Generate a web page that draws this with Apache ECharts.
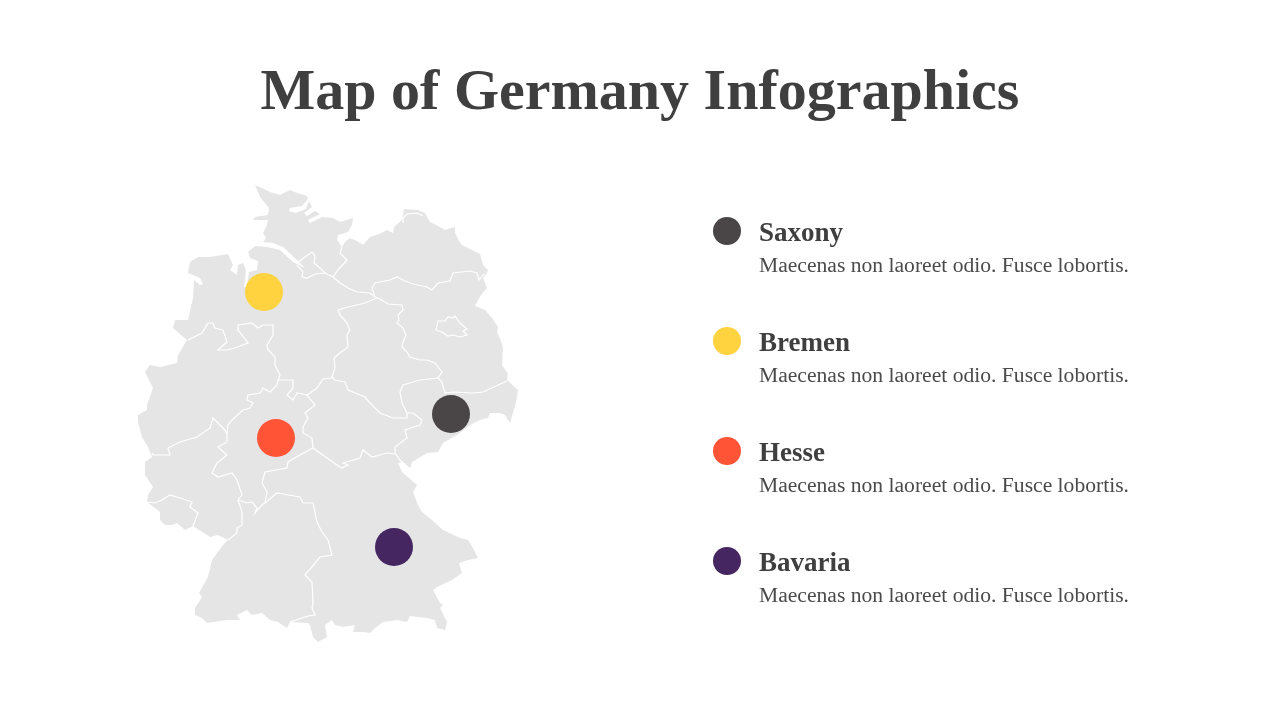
<!DOCTYPE html>
<html lang="en">
<head>
    <meta charset="UTF-8">
    <title>Map of Germany Infographics</title>
    <style>
        * { margin: 0; padding: 0; }
        body { background: #fff; }
        #chart-container { width: 1280px; height: 720px; }
    </style>
</head>
<body>
    <div id="chart-container"></div>
    <script src="https://cdn.jsdelivr.net/npm/echarts@6/dist/echarts.min.js"></script>
    <script>
        // outline and inner borders, in map units
        var germanyOutline = [[255,185],[262,188],[270,192],[280,195],[290,190],[297,193],[307,196],[308,199],[302,206],[290,208],[289,211],[296,213],[306,209],[309,201],[312,207],[304,213],[307,216],[315,211],[320,214],[308,220],[310,223],[322,217],[333,218],[340,222],[353,218],[352,225],[348,232],[338,235],[337,240],[342,247],[345,242],[350,238],[357,241],[363,245],[370,237],[379,234],[387,230],[393,233],[394,227],[402,220],[404,209],[418,210],[425,213],[430,222],[438,226],[445,230],[455,227],[455,233],[459,241],[462,245],[472,250],[480,254],[483,265],[488,270],[486,275],[483,278],[487,288],[481,295],[477,302],[475,306],[485,310],[492,318],[498,327],[497,332],[501,341],[503,348],[502,365],[508,374],[507,380],[518,390],[516,402],[510,423],[505,415],[500,413],[490,413],[488,418],[480,420],[470,425],[457,435],[443,443],[438,452],[427,453],[412,462],[410,468],[403,462],[398,463],[402,472],[417,485],[413,492],[418,505],[422,512],[432,520],[443,530],[460,538],[468,540],[473,548],[478,558],[468,560],[459,563],[462,573],[452,580],[437,587],[433,590],[440,603],[443,605],[440,608],[447,622],[445,630],[437,628],[435,620],[427,618],[410,616],[407,622],[397,620],[383,622],[375,628],[370,633],[363,632],[353,632],[355,625],[343,627],[335,625],[332,620],[325,625],[327,637],[318,642],[313,637],[310,625],[308,623],[290,622],[287,628],[284,626],[278,622],[270,620],[262,613],[252,615],[247,610],[237,615],[240,620],[227,620],[213,622],[207,623],[202,618],[195,615],[195,608],[202,597],[199,593],[208,577],[212,560],[223,545],[228,540],[218,535],[210,537],[193,526],[185,530],[177,523],[172,525],[165,525],[160,520],[160,512],[147,502],[148,495],[153,487],[145,475],[145,462],[152,457],[148,447],[142,437],[138,422],[138,415],[147,410],[147,405],[153,388],[145,372],[150,365],[160,367],[177,363],[178,355],[187,340],[173,328],[175,320],[188,320],[193,298],[194,280],[200,285],[203,284],[200,278],[193,275],[188,273],[190,262],[198,257],[210,257],[228,254],[233,265],[230,270],[237,275],[238,265],[243,263],[246,270],[244,287],[247,287],[249,272],[257,270],[258,261],[250,258],[248,252],[255,246],[267,247],[280,250],[293,262],[305,268],[297,260],[283,247],[273,243],[263,242],[266,238],[263,233],[267,225],[268,220],[253,220],[255,217],[268,215],[269,208],[260,197]];

        var innerBorders = [
            [[297,263],[305,257],[312,252],[315,256],[314,263],[320,268],[325,273]],
            [[297,265],[303,272],[302,277],[307,278],[315,274],[325,273],[333,277],[340,283],[348,288],[357,292],[370,293],[375,297]],
            [[333,277],[338,270],[347,260],[340,253],[342,247]],
            [[375,297],[372,288],[375,283],[390,280],[397,277],[405,281],[413,284],[427,287],[432,290],[438,283],[450,281],[453,273],[470,271],[477,273],[479,280],[483,275],[486,275]],
            [[375,297],[380,299],[388,304],[402,305],[403,310],[398,315],[399,320],[397,323],[403,328],[406,335],[403,342],[402,347],[407,352],[410,357],[420,360],[427,360],[435,363],[442,372],[438,378],[442,382],[445,393],[453,392],[473,393],[483,392],[507,381]],
            [[377,298],[365,303],[348,307],[338,310],[340,315],[347,323],[350,330],[347,335],[348,347],[340,353],[334,358],[335,368],[332,377],[335,380],[345,382],[348,390],[365,397],[370,403],[380,413],[393,418],[407,418],[407,413]],
            [[438,378],[420,380],[403,385],[400,392],[402,403],[407,413],[413,413],[422,420],[420,425],[405,430],[407,438],[395,447],[395,453],[400,460],[408,468]],
            [[395,454],[387,453],[372,457],[363,450],[360,458],[343,463],[348,465],[342,468],[337,465],[313,448],[300,455],[288,462],[287,468],[265,472],[262,483],[267,492],[265,503],[262,505],[255,513],[257,508],[252,502],[247,503],[238,500]],
            [[313,448],[312,438],[303,433],[303,427],[308,418],[305,413],[315,405],[307,395],[317,388],[323,379],[332,378]],
            [[307,395],[297,393],[293,400],[287,395],[293,388],[293,380],[278,380],[280,375],[275,365],[275,357],[268,350],[267,345],[273,335],[273,325],[263,325],[258,328],[252,323],[238,325],[238,330],[248,343],[235,348],[227,350],[218,350],[220,348],[227,342],[223,330],[215,328],[213,323],[208,323],[202,333],[188,340]],
            [[278,380],[277,385],[270,392],[263,388],[260,393],[248,395],[247,400],[253,403],[250,408],[243,410],[232,420],[228,425],[227,433],[227,442],[218,447],[227,455],[217,463],[212,473],[218,477],[232,473],[237,480],[242,495],[238,500],[242,512],[242,525],[237,528],[237,533],[228,540]],
            [[152,453],[153,455],[170,455],[168,448],[180,442],[197,437],[210,428],[213,418],[222,427],[227,433]],
            [[147,502],[155,503],[162,500],[170,495],[180,498],[192,502],[190,507],[198,513],[193,526]],
            [[265,503],[277,493],[288,495],[300,497],[303,503],[313,503],[317,522],[322,532],[328,540],[332,555],[320,557],[305,575],[312,582],[313,605],[312,608],[315,615],[308,616],[290,622]],
            [[436,330],[438,321],[445,321],[448,317],[453,318],[455,316],[460,323],[467,329],[463,331],[467,335],[460,337],[453,335],[448,336],[442,332],[436,330]],
            [[403,223],[403,218],[407,214],[417,213],[423,216]]
        ];

        var stateNames = ['Saxony', 'Bremen', 'Hesse', 'Bavaria'];
        var stateColors = ['#4a4648', '#ffd23f', '#ff5436', '#452661'];
        var statePoints = [[451,414], [264,292], [276,438], [394,547]];
        var stateNote = 'Maecenas non laoreet odio. Fusce lobortis.';

        echarts.registerMap('germany', {
            type: 'FeatureCollection',
            features: [{
                type: 'Feature',
                properties: { name: 'Germany' },
                geometry: { type: 'Polygon', coordinates: [germanyOutline] }
            }]
        });

        var xs = germanyOutline.map(function (p) { return p[0]; });
        var ys = germanyOutline.map(function (p) { return p[1]; });
        var mapLeft = Math.min.apply(null, xs);
        var mapTop = Math.min.apply(null, ys);

        var myChart = echarts.init(document.getElementById('chart-container'));

        var series = [{
            type: 'lines',
            coordinateSystem: 'geo',
            polyline: true,
            silent: true,
            z: 3,
            lineStyle: { color: '#ffffff', width: 1.2, opacity: 1 },
            data: innerBorders.map(function (b) { return { coords: b }; })
        }];
        stateNames.forEach(function (name, i) {
            series.push({
                type: 'scatter',
                name: name,
                coordinateSystem: 'geo',
                symbol: 'circle',
                symbolSize: 38,
                z: 5,
                itemStyle: { color: stateColors[i], opacity: 1 },
                data: [statePoints[i]]
            });
        });

        var option = {
            animation: false,
            title: {
                text: 'Map of Germany Infographics',
                left: 'center',
                top: 60,
                textStyle: { fontFamily: 'Liberation Serif', fontSize: 58, fontWeight: 'bold', color: '#3f3f3f' }
            },
            geo: {
                map: 'germany',
                projection: {
                    project: function (p) { return p; },
                    unproject: function (p) { return p; }
                },
                aspectScale: 1,
                left: mapLeft,
                top: mapTop,
                width: Math.max.apply(null, xs) - mapLeft,
                height: Math.max.apply(null, ys) - mapTop,
                silent: true,
                roam: false,
                label: { show: false },
                itemStyle: { areaColor: '#e5e5e5', borderWidth: 0 }
            },
            legend: {
                orient: 'vertical',
                left: 713,
                top: 217,
                padding: 0,
                itemWidth: 28,
                itemHeight: 28,
                itemGap: 79.5,
                selectedMode: false,
                icon: 'circle',
                data: stateNames,
                formatter: '{n|{name}}',
                textStyle: {
                    rich: {
                        n: {
                            fontFamily: 'Liberation Serif',
                            fontSize: 27,
                            fontWeight: 'bold',
                            color: '#3f3f3f',
                            padding: [6, 0, 0, 13]
                        }
                    }
                }
            },
            graphic: stateNames.map(function (name, i) {
                return {
                    type: 'text',
                    left: 759,
                    top: 255 + i * 110,
                    style: {
                        text: stateNote,
                        font: '21.6px "Liberation Serif"',
                        fill: '#4a4a4a'
                    }
                };
            }),
            series: series
        };

        myChart.setOption(option);
        window.addEventListener('resize', myChart.resize);
    </script>
</body>
</html>
